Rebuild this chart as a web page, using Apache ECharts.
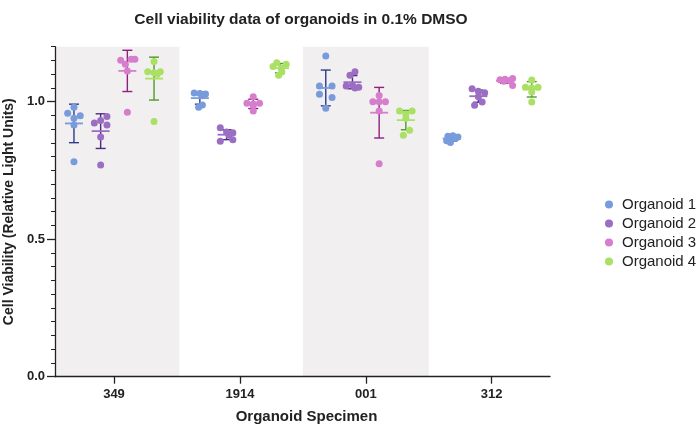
<!DOCTYPE html>
<html>
<head>
<meta charset="utf-8">
<script src="https://cdn.jsdelivr.net/npm/echarts@6/dist/echarts.min.js"></script>
<style>html,body{margin:0;padding:0;background:#fff}#c{width:700px;height:435px}</style>
</head>
<body>
<div id="c"></div>
<script>
// ---- data ----
const specimens = ['349', '1914', '001', '312'];
const organoidNames = ['Organoid 1', 'Organoid 2', 'Organoid 3', 'Organoid 4'];
const yTickLabels = [0, 0.5, 1.0];
const yMinorTicks = [0, 0.05, 0.1, 0.15, 0.2, 0.25, 0.3, 0.35, 0.4, 0.45, 0.5, 0.55, 0.6,
  0.65, 0.7, 0.75, 0.8, 0.85, 0.9, 0.95, 1.0, 1.05, 1.1, 1.15, 1.2];

// replicate values per specimen (6 wells each)
const o1Values = [
  [0.980, 0.958, 0.949, 0.940, 0.915, 0.782],
  [1.032, 1.030, 1.028, 1.022, 0.988, 0.980],
  [1.166, 1.057, 1.057, 1.027, 1.015, 0.976],
  [0.876, 0.874, 0.872, 0.866, 0.858, 0.852]
];
const o2Values = [
  [0.946, 0.923, 0.932, 0.915, 0.872, 0.770],
  [0.905, 0.890, 0.887, 0.878, 0.862, 0.856],
  [1.109, 1.096, 1.060, 1.057, 1.053, 1.050],
  [1.047, 1.038, 1.033, 1.018, 0.999, 0.987]
];
const o3Values = [
  [1.151, 1.136, 1.154, 1.154, 1.112, 0.962],
  [1.018, 0.994, 0.994, 0.992, 0.985, 0.966],
  [1.023, 1.000, 1.000, 1.000, 0.966, 0.774],
  [1.084, 1.082, 1.080, 1.076, 1.074, 1.059]
];
const o4Values = [
  [1.146, 1.109, 1.105, 1.109, 1.100, 0.928],
  [1.142, 1.136, 1.128, 1.122, 1.108, 1.096],
  [0.966, 0.966, 0.955, 0.940, 0.896, 0.878],
  [1.079, 1.053, 1.053, 1.050, 1.035, 0.999]
];
// horizontal jitter of each replicate (category units)
const o1Jitter = [
  [0, -0.05, 0.05, 0, 0, 0],
  [-0.045, 0, 0.045, 0.02, 0.02, -0.01],
  [0, -0.05, 0.05, -0.05, 0.05, 0],
  [0.01, -0.03, 0.05, 0.03, -0.04, -0.01]
];
const o2Jitter = [
  [0.05, -0.05, 0, 0.05, 0, 0],
  [-0.05, 0, 0.05, 0.02, 0.05, -0.05],
  [0.02, -0.02, 0, -0.05, 0.05, 0.02],
  [-0.05, 0, 0.05, 0, 0.03, -0.03]
];
const o3Jitter = [
  [-0.053, -0.016, 0.03, 0.06, 0, 0],
  [0, -0.05, 0.05, 0, 0, 0],
  [0, -0.05, 0, 0.05, 0, 0],
  [0.06, 0, -0.04, 0.04, -0.01, 0.06]
];
const o4Jitter = [
  [0, -0.05, 0, 0.05, 0.025, 0],
  [-0.025, 0.05, -0.055, 0.01, 0.015, -0.01],
  [-0.05, 0.05, 0, 0, 0.03, -0.02],
  [0, -0.05, 0.05, 0, 0, 0]
];
// mean and SD per specimen
const o1Mean = [0.921, 1.013, 1.050, 0.866];
const o1Sd   = [0.070, 0.022, 0.065, 0.010];
const o2Mean = [0.893, 0.880, 1.071, 1.020];
const o2Sd   = [0.063, 0.018, 0.024, 0.022];
const o3Mean = [1.112, 0.992, 0.960, 1.076];
const o3Sd   = [0.075, 0.017, 0.092, 0.009];
const o4Mean = [1.084, 1.122, 0.933, 1.045];
const o4Sd   = [0.078, 0.017, 0.035, 0.028];

// ---- styling / layout ----
const pointColors = ['#789bdc', '#9b6ec3', '#d77dcd', '#aae164'];
const barColors = ['#2d3b8c', '#4b2a7e', '#8e2080', '#4f9a2c'];
const groupOffset = [-0.318, -0.106, 0.106, 0.318];
const xMin = -0.4686, xMax = 3.463;
const FONT = '"Liberation Sans", Arial, Helvetica, sans-serif';

const allValues = [o1Values, o2Values, o3Values, o4Values];
const allJitter = [o1Jitter, o2Jitter, o3Jitter, o4Jitter];
const allMean = [o1Mean, o2Mean, o3Mean, o4Mean];
const allSd = [o1Sd, o2Sd, o3Sd, o4Sd];

const series = [];
// background shading
series.push({
  type: 'scatter', data: [], z: -1, silent: true,
  markArea: {
    silent: true,
    itemStyle: { color: '#f1eff0' },
    data: [
      [{ xAxis: xMin }, { xAxis: 0.52 }],
      [{ xAxis: 1.5 }, { xAxis: 2.5 }]
    ]
  }
});

organoidNames.forEach((name, k) => {
  const bars = specimens.map((s, i) => [i + groupOffset[k], allMean[k][i], allSd[k][i]]);
  series.push({
    type: 'custom', name: name + ' SD', z: 2, silent: true,
    data: bars,
    renderItem: function (params, api) {
      const x = api.value(0), m = api.value(1), sd = api.value(2);
      const pTop = api.coord([x, m + sd]);
      const pBot = api.coord([x, m - sd]);
      const pMid = api.coord([x, m]);
      const st = { stroke: barColors[k], lineWidth: 1.4 };
      return {
        type: 'group',
        children: [
          { type: 'line', shape: { x1: pTop[0], y1: pTop[1], x2: pBot[0], y2: pBot[1] }, style: st },
          { type: 'line', shape: { x1: pTop[0] - 5, y1: pTop[1], x2: pTop[0] + 5, y2: pTop[1] }, style: st },
          { type: 'line', shape: { x1: pBot[0] - 5, y1: pBot[1], x2: pBot[0] + 5, y2: pBot[1] }, style: st },
          { type: 'line', shape: { x1: pMid[0] - 9, y1: pMid[1], x2: pMid[0] + 9, y2: pMid[1] },
            style: { stroke: pointColors[k], lineWidth: 1.8 } }
        ]
      };
    }
  });
});

organoidNames.forEach((name, k) => {
  const pts = [];
  specimens.forEach((s, i) => {
    allValues[k][i].forEach((v, j) => {
      pts.push([i + groupOffset[k] + allJitter[k][i][j], v]);
    });
  });
  series.push({
    type: 'scatter', name: name, z: 3,
    symbolSize: 7,
    itemStyle: { color: pointColors[k], opacity: 1 },
    data: pts
  });
});

const chart = echarts.init(document.getElementById('c'), null, { renderer: 'canvas' });
chart.setOption({
  animation: false,
  backgroundColor: '#fff',
  title: {
    text: 'Cell viability data of organoids in 0.1% DMSO',
    left: 296, top: 7, textAlign: 'center',
    textStyle: { fontFamily: FONT, fontSize: 15.5, fontWeight: 'bold', color: '#222' }
  },
  legend: {
    data: organoidNames,
    orient: 'vertical',
    left: 600, top: 192,
    itemGap: 4,
    icon: 'circle', itemWidth: 8, itemHeight: 8,
    textStyle: { fontFamily: FONT, fontSize: 15, color: '#222', padding: [0, 0, 0, 4] }
  },
  grid: { left: 55, right: 150, top: 46.7, bottom: 58.3, containLabel: false, outerBoundsMode: 'none' },
  xAxis: {
    type: 'value', min: xMin, max: xMax, z: 10,
    name: 'Organoid Specimen', nameLocation: 'middle', nameGap: 33,
    nameTextStyle: { fontFamily: FONT, fontSize: 15, fontWeight: 'bold', color: '#222', padding: [0, 0, 0, 8] },
    axisLine: { show: true, onZero: false, lineStyle: { color: '#222', width: 1.3 } },
    axisTick: { show: true, customValues: [0, 1, 2, 3], length: 7, lineStyle: { color: '#222', width: 1.3 } },
    axisLabel: {
      customValues: [0, 1, 2, 3], margin: 11,
      formatter: v => specimens[Math.round(v)],
      fontFamily: FONT, fontSize: 13, fontWeight: 'bold', color: '#222'
    },
    splitLine: { show: false }
  },
  yAxis: [{
    type: 'value', min: 0, max: 1.2, interval: 0.05, z: 10,
    name: 'Cell Viability (Relative Light Units)', nameLocation: 'middle', nameGap: 34,
    nameTextStyle: { fontFamily: FONT, fontSize: 14, fontWeight: 'bold', color: '#222' },
    axisLine: { show: true, onZero: false, lineStyle: { color: '#222', width: 1.3 } },
    axisTick: { show: true, customValues: yMinorTicks, length: 4, lineStyle: { color: '#222', width: 1 } },
    axisLabel: {
      customValues: yTickLabels, margin: 10,
      formatter: v => v.toFixed(1),
      fontFamily: FONT, fontSize: 13, fontWeight: 'bold', color: '#222'
    },
    splitLine: { show: false }
  }, {
    type: 'value', min: 0, max: 1.2, position: 'left', z: 10,
    axisLine: { show: false, onZero: false },
    axisTick: { show: true, customValues: yTickLabels, length: 8, lineStyle: { color: '#222', width: 1.3 } },
    axisLabel: { show: false },
    splitLine: { show: false }
  }],
  series: series
});
</script>
</body>
</html>
